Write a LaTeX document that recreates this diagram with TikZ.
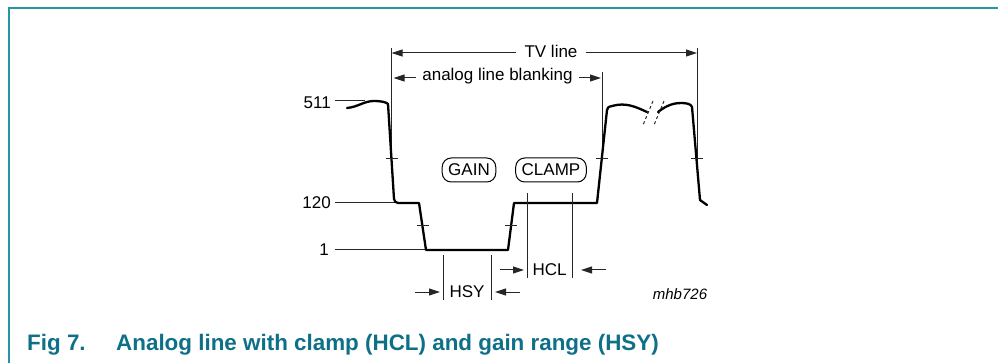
\documentclass[tikz,border=0pt]{standalone}
\usepackage{fontspec}
\setmainfont{Liberation Sans}
\usetikzlibrary{arrows.meta}
\definecolor{framecol}{RGB}{40,148,165}
\definecolor{capcol}{RGB}{14,112,134}
\tikzset{
  wave/.style={line width=2.3pt, line join=round, line cap=round},
  thinln/.style={line width=1pt, black!85},
  dimarrow/.style={thinln, -{Triangle[length=11pt,width=7pt]}},
  lbl/.style={font=\fontsize{17}{20}\selectfont, inner sep=0pt},
  boxlbl/.style={draw, line width=1pt, rounded corners=9pt, font=\fontsize{17}{20}\selectfont, inner xsep=6pt, minimum height=24pt, minimum width=0pt},
  frame/.style={line width=1.6pt, framecol},
  caption/.style={font=\fontsize{22.4}{26}\selectfont\bfseries, text=capcol, inner sep=0pt, anchor=base west}
}
\begin{document}
\begin{tikzpicture}[x=1pt,y=-1pt]
\useasboundingbox (0,0) rectangle (998,363);
% frame
\draw[frame] (9,363) -- (9,8) -- (998,8);

% reference vertical lines
\coordinate (vLt) at (391.5,48);  \coordinate (vLb) at (391.5,160);
\coordinate (vBt) at (602,72);    \coordinate (vBb) at (602,160);
\coordinate (vRt) at (697,48);    \coordinate (vRb) at (697,160);
\draw[thinln] (vLt) -- (vLb);
\draw[thinln] (vBt) -- (vBb);
\draw[thinln] (vRt) -- (vRb);

% TV line
\node[lbl] (tv) at (551,51) {TV line};
\draw[dimarrow] ([xshift=-8pt]tv.west |- 0,53) -- (vLt |- 0,53);
\draw[dimarrow] ([xshift=8pt]tv.east |- 0,53) -- (vRt |- 0,53);
% analog line blanking
\node[lbl] (blank) at (497.5,76) {analog line blanking};
\draw[dimarrow] ([xshift=-6pt]blank.west |- 0,78) -- ([xshift=2pt]vLt |- 0,78);
\draw[dimarrow] ([xshift=6pt]blank.east |- 0,78) -- ([xshift=-1pt]vBt |- 0,78);

% level labels
\node[lbl, anchor=east] (l511) at (331,103) {511};
\node[lbl, anchor=east] (l120) at (331,203) {120};
\node[lbl, anchor=east] (l1) at (329,250) {1};
\coordinate (p511) at (365,101);
\coordinate (p120) at (397,203);
\coordinate (p1) at (426,250);
\draw[thinln] ([xshift=4pt]l511.east |- p511) -- (p511);
\draw[thinln] ([xshift=4pt]l120.east |- p120) -- (p120);
\draw[thinln] ([xshift=6pt]l1.east |- p1) -- (p1);

% waveform
\draw[wave] (347,108) .. controls (358,107) and (364,101) .. (374,101)
  .. controls (381,101) and (386,102) .. (388,104) -- (394,199)
  .. controls (395,202) .. (398,203) -- (419,203) -- (426,250) -- (508,250)
  -- (514,203) -- (597,203) -- (607,110)
  .. controls (608,107) .. (612,106) .. controls (626,102) and (636,107) .. (647,112);
\draw[wave] (658,112) .. controls (667,105) and (674,103) .. (681,103)
  .. controls (687,103) and (691,104) .. (692,107) -- (700,200) -- (707,205);
% break marks
\draw[thinln, dash pattern=on 3pt off 2.5pt] (653,101) -- (643,125);
\draw[thinln, dash pattern=on 3pt off 2.5pt] (664,101) -- (654,125);

% ticks
\foreach \p in {(391.5,159),(602,159),(697,159),(422.5,226),(511,226)}
  \draw[thinln] \p +(-6,0) -- +(6,0);

% GAIN / CLAMP
\node[boxlbl] (gain) at (469,170) {GAIN};
\node[boxlbl] (clamp) at (551,170) {CLAMP};

% HCL
\coordinate (hcl1t) at (527,193); \coordinate (hcl1b) at (527,278);
\coordinate (hcl2t) at (572,193); \coordinate (hcl2b) at (572,278);
\draw[thinln] (hcl1t) -- (hcl1b);
\draw[thinln] (hcl2t) -- (hcl2b);
\node[lbl] (hcl) at (549.5,270) {HCL};
\coordinate (hclA) at (500,270); \coordinate (hclB) at (606,270);
\draw[dimarrow] (hclA) -- ([xshift=-3pt]hcl1t |- hclA);
\draw[dimarrow] (hclB) -- ([xshift=9pt]hcl2t |- hclB);

% HSY
\coordinate (hsy1t) at (443,255); \coordinate (hsy1b) at (443,300);
\coordinate (hsy2t) at (491,255); \coordinate (hsy2b) at (491,300);
\draw[thinln] (hsy1t) -- (hsy1b);
\draw[thinln] (hsy2t) -- (hsy2b);
\node[lbl] (hsy) at (467,292) {HSY};
\coordinate (hsyA) at (415,292); \coordinate (hsyB) at (520,292);
\draw[dimarrow] (hsyA) -- ([xshift=-3pt]hsy1t |- hsyA);
\draw[dimarrow] (hsyB) -- ([xshift=4pt]hsy2t |- hsyB);

% figure code
\node[font=\fontsize{15}{18}\selectfont\itshape, inner sep=0pt] (code) at (680,294) {mhb726};

% caption
\node[caption] (fig) at (27,350) {Fig 7.};
\node[caption] (captext) at (116,350) {Analog line with clamp (HCL) and gain range (HSY)};
\end{tikzpicture}
\end{document}
